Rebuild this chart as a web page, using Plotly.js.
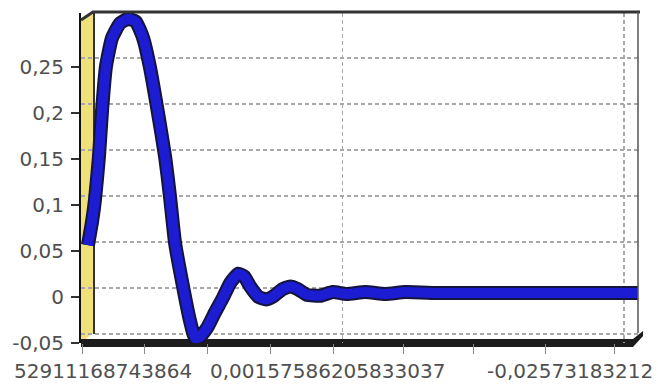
<!DOCTYPE html>
<html>
<head>
<meta charset="utf-8">
<script src="https://cdn.plot.ly/plotly-3.0.1.min.js"></script>
<style>html,body{margin:0;padding:0;background:#fff;}#chart{width:658px;height:385px;}</style>
</head>
<body>
<div id="chart"></div>
<script>
// ---- data ----
const curveX = [0, 0.06, 0.105, 0.165, 0.21, 0.27, 0.36, 0.48, 0.60, 0.72, 0.83, 0.93, 1.05, 1.16, 1.23, 1.31,
  1.44, 1.53, 1.61, 1.68, 1.79, 1.91, 2.03, 2.14, 2.26, 2.35, 2.44, 2.56, 2.68, 2.80, 2.92, 3.04, 3.16,
  3.29, 3.49, 3.68, 3.89, 4.17, 4.47, 4.77, 5.29, 5.89, 6.65, 7.40, 8.27];
const curveY = [0.052, 0.077, 0.101, 0.148, 0.197, 0.246, 0.277, 0.293, 0.298, 0.295, 0.277, 0.246, 0.197, 0.148, 0.107, 0.054,
  0.003, -0.029, -0.049, -0.048, -0.038, -0.021, -0.005, 0.011, 0.021, 0.018, 0.007, -0.004, -0.007, -0.003, 0.004, 0.007, 0.004,
  -0.002, -0.003, 0.001, -0.001, 0.001, -0.001, 0.001, 0, 0, 0, 0, 0];
const yTickVals = [-0.05, 0, 0.05, 0.1, 0.15, 0.2, 0.25];
const yTickText = ['-0,05', '0', '0,05', '0,1', '0,15', '0,2', '0,25'];
const xTickPos = [0, 0.93, 1.87, 2.82, 3.77, 4.82, 5.87, 6.95, 8.0];
const xLabelText = ['52911168743864', '0,00157586205833037', '-0,02573183212'];
const xLabelPos = [0.30, 3.68, 6.04];
const xLabelAnchor = ['center', 'center', 'left'];
const xGridPos = [3.77, 8.0];

// ---- geometry helpers (pixel -> paper) ----
const L = 81, R = 638, T = 13, B = 343;
const px = v => (v - L) / (R - L);
const py = v => (B - v) / (B - T);
function path(pts) { return 'M' + pts.map(p => px(p[0]).toFixed(4) + ',' + py(p[1]).toFixed(4)).join('L') + 'Z'; }

const textFont = {family: 'DejaVu Sans', size: 20, color: '#505050'};

const traces = [
  {x: [null], y: [null], xaxis: 'x3', yaxis: 'y3', mode: 'markers', hoverinfo: 'skip'},
  {x: curveX, y: curveY, xaxis: 'x2', yaxis: 'y2', mode: 'lines',
   line: {color: '#14143e', width: 14, shape: 'spline', smoothing: 0.45}, hoverinfo: 'skip'},
  {x: curveX, y: curveY, xaxis: 'x2', yaxis: 'y2', mode: 'lines',
   line: {color: '#1c1cd2', width: 10, shape: 'spline', smoothing: 0.45}, hoverinfo: 'skip'}
];

const gridStyle = {showgrid: true, gridcolor: '#a8a8a8', griddash: '4px,3px', gridwidth: 1.5,
  showticklabels: false, ticks: '', zeroline: false, showline: false};

const layout = {
  width: 658, height: 385,
  margin: {l: L, r: 658 - R, t: T, b: 385 - B, pad: 0},
  paper_bgcolor: '#ffffff', plot_bgcolor: '#ffffff',
  showlegend: false,
  xaxis: {range: [-0.030, 8.346], tickvals: xTickPos, ticktext: xTickPos.map(() => ''),
    ticks: 'outside', ticklen: 10, tickcolor: '#8a8a8a', tickwidth: 1,
    showgrid: false, zeroline: false, showline: false, fixedrange: true},
  yaxis: {range: [-0.05, 0.3087], tickvals: yTickVals, ticktext: yTickText,
    ticks: 'outside', ticklen: 8, tickcolor: '#333', tickwidth: 1.5,
    showgrid: false, zeroline: false, showline: true, linecolor: '#111', linewidth: 2,
    tickfont: textFont, ticklabelstandoff: 3, fixedrange: true},
  xaxis2: {overlaying: 'x', range: [-0.105, 8.271], visible: false},
  yaxis2: {overlaying: 'y', range: [-0.05435, 0.30435], visible: false},
  xaxis3: Object.assign({overlaying: 'x', range: [-0.165, 8.211], tickvals: xGridPos}, gridStyle),
  yaxis3: Object.assign({overlaying: 'y', range: [-0.05978, 0.29892], tickvals: yTickVals}, gridStyle),
  shapes: [
    {type: 'path', xref: 'paper', yref: 'paper', layer: 'between',
     path: path([[81, 20], [93, 12], [93, 333], [81, 343]]), fillcolor: '#efe07a', line: {width: 0}},
    {type: 'line', xref: 'paper', yref: 'paper', layer: 'between',
     x0: px(94), y0: py(12), x1: px(94), y1: py(334), line: {color: '#333', width: 2}},
    {type: 'path', xref: 'paper', yref: 'paper', layer: 'between',
     path: path([[81, 339], [633, 339], [643, 331], [643, 336], [633, 347], [81, 347]]), fillcolor: '#1c1c1c', line: {width: 0}},
    {type: 'path', xref: 'paper', yref: 'paper', layer: 'above',
     path: 'M' + px(81) + ',' + py(20) + 'L' + px(93) + ',' + py(12) + 'L' + px(640) + ',' + py(12),
     line: {color: '#333', width: 3}},
    {type: 'line', xref: 'paper', yref: 'paper', layer: 'above',
     x0: px(638), y0: py(12), x1: px(638), y1: py(333), line: {color: '#555', width: 1.5}}
  ],
  annotations: xLabelText.map((t, i) => ({text: t, x: xLabelPos[i], xref: 'x', y: py(371), yref: 'paper',
    xanchor: xLabelAnchor[i], yanchor: 'middle', showarrow: false, font: textFont}))
};

Plotly.newPlot('chart', traces, layout, {displayModeBar: false, staticPlot: true});
</script>
</body>
</html>
